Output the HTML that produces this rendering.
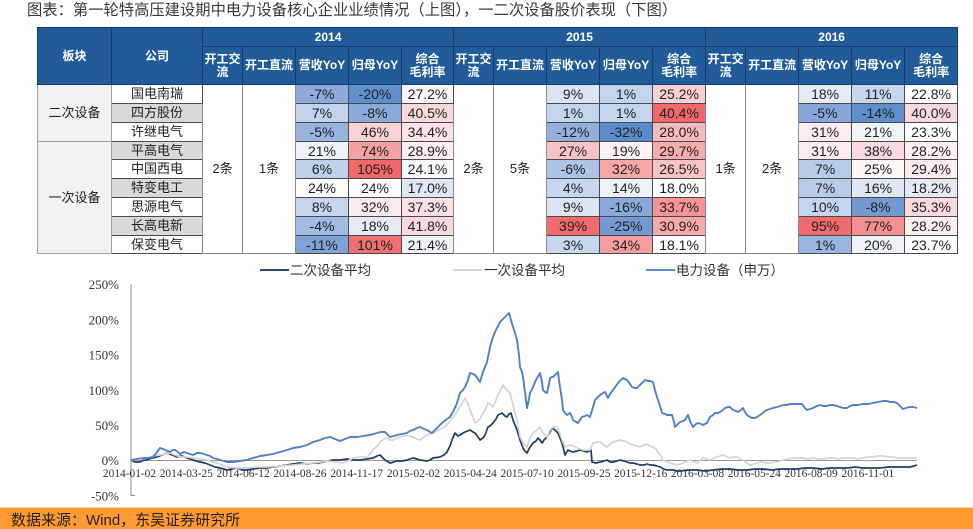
<!DOCTYPE html>
<html><head><meta charset="utf-8">
<style>
html,body{margin:0;padding:0;background:#fff;}
body{width:973px;height:529px;position:relative;overflow:hidden;font-family:"Liberation Sans","Noto Sans CJK SC",sans-serif;}
.title{position:absolute;left:27px;top:1px;font-size:15.3px;line-height:20px;color:#3a3a3a;white-space:nowrap;}
table{position:absolute;left:37px;top:27px;border-collapse:collapse;table-layout:fixed;width:921px;}
td{padding:0;text-align:center;vertical-align:middle;font-size:14px;color:#222;border:1px solid #4a4a4a;overflow:hidden;white-space:nowrap;line-height:14px;}
td.h{background:#215b9a;color:#fff;font-weight:bold;font-size:12px;border:1px solid #173e68;white-space:normal;line-height:13px;}
td.b{background:#f2f2f2;border-color:#a0a0a0;font-size:13px;}
td.g{background:#d9d9d9;font-size:13px;}
td.w{background:#fff;font-size:13px;}
td.m{background:#fff;border-color:#8a8a8a;font-size:13px;}
tr.r td{height:18px;}
tr.s td{height:17px;}
svg{position:absolute;left:0;top:0;}
</style></head><body>
<div class="title">图表：第一轮特高压建设期中电力设备核心企业业绩情况（上图），一二次设备股价表现（下图）</div>
<table>
<colgroup>
<col style="width:74px"><col style="width:91px">
<col style="width:40px"><col style="width:53px"><col style="width:53px"><col style="width:53px"><col style="width:52px">
<col style="width:40px"><col style="width:53px"><col style="width:53px"><col style="width:53px"><col style="width:53px">
<col style="width:40px"><col style="width:53px"><col style="width:53px"><col style="width:53px"><col style="width:53px">
</colgroup>
<tr><td class="h" rowspan="2">板块</td><td class="h" rowspan="2">公司</td><td class="h" colspan="5" style="height:18px">2014</td><td class="h" colspan="5">2015</td><td class="h" colspan="5">2016</td></tr>
<tr style="height:38px"><td class="h">开工交流</td><td class="h">开工直流</td><td class="h">营收YoY</td><td class="h">归母YoY</td><td class="h">综合<br>毛利率</td>
<td class="h">开工交流</td><td class="h">开工直流</td><td class="h">营收YoY</td><td class="h">归母YoY</td><td class="h">综合<br>毛利率</td>
<td class="h">开工交流</td><td class="h">开工直流</td><td class="h">营收YoY</td><td class="h">归母YoY</td><td class="h">综合<br>毛利率</td></tr>

<tr class="r"><td class="b" rowspan="3">二次设备</td><td class="w">国电南瑞</td>
<td class="m" rowspan="9">2条</td><td class="m" rowspan="9">1条</td>
<td style="background:#8eaadc">-7%</td><td style="background:#5f8fcc">-20%</td><td style="background:#fdf4f5">27.2%</td>
<td class="m" rowspan="9">2条</td><td class="m" rowspan="9">5条</td>
<td style="background:#dae4f3">9%</td><td style="background:#c3d4ed">1%</td><td style="background:#fbd0d3">25.2%</td>
<td class="m" rowspan="9">1条</td><td class="m" rowspan="9">2条</td>
<td style="background:#e4ebf6">18%</td><td style="background:#c6d6ee">11%</td><td style="background:#ffffff">22.8%</td></tr>

<tr class="r"><td class="g">四方股份</td>
<td style="background:#c0d2ec">7%</td><td style="background:#8aaad9">-8%</td><td style="background:#fcdadc">40.5%</td>
<td style="background:#c3d4ed">1%</td><td style="background:#c3d4ed">1%</td><td style="background:#f06869">40.4%</td>
<td style="background:#84a6d8">-5%</td><td style="background:#5f8ecb">-14%</td><td style="background:#fbd8db">40.0%</td></tr>

<tr class="r"><td class="w">许继电气</td>
<td style="background:#97b3de">-5%</td><td style="background:#fad2d4">46%</td><td style="background:#fce4e6">34.4%</td>
<td style="background:#93b0dd">-12%</td><td style="background:#5b8bca">-32%</td><td style="background:#f8babd">28.0%</td>
<td style="background:#fdeced">31%</td><td style="background:#eff3fa">21%</td><td style="background:#ffffff">23.3%</td></tr>

<tr class="s"><td class="b" rowspan="6">一次设备</td><td class="g">平高电气</td>
<td style="background:#eef3fa">21%</td><td style="background:#f5a1a4">74%</td><td style="background:#fdeef0">28.9%</td>
<td style="background:#f9c3c6">27%</td><td style="background:#fef4f5">19%</td><td style="background:#f6abae">29.7%</td>
<td style="background:#fdeced">31%</td><td style="background:#fbdadd">38%</td><td style="background:#fdf1f2">28.2%</td></tr>

<tr class="r"><td class="w">中国西电</td>
<td style="background:#bfd1eb">6%</td><td style="background:#f06869">105%</td><td style="background:#fbfcfe">24.1%</td>
<td style="background:#aec4e6">-6%</td><td style="background:#f7a6a9">32%</td><td style="background:#f9c3c6">26.5%</td>
<td style="background:#b8cce9">7%</td><td style="background:#fef6f7">25%</td><td style="background:#fdedef">29.4%</td></tr>

<tr class="r"><td class="g">特变电工</td>
<td style="background:#fdfdfe">24%</td><td style="background:#fdfdfe">24%</td><td style="background:#dfe7f4">17.0%</td>
<td style="background:#c7d7ee">4%</td><td style="background:#edf2f9">14%</td><td style="background:#fdfdfe">18.0%</td>
<td style="background:#b8cce9">7%</td><td style="background:#dfe7f4">16%</td><td style="background:#e3eaf5">18.2%</td></tr>

<tr class="r"><td class="w">思源电气</td>
<td style="background:#c4d5ed">8%</td><td style="background:#fdeaec">32%</td><td style="background:#fce2e4">37.3%</td>
<td style="background:#dae4f3">9%</td><td style="background:#88a9da">-16%</td><td style="background:#f49497">33.7%</td>
<td style="background:#c4d5ed">10%</td><td style="background:#7399d0">-8%</td><td style="background:#fbdadd">35.3%</td></tr>

<tr class="r"><td class="g">长高电新</td>
<td style="background:#a2bbe2">-4%</td><td style="background:#e4ebf6">18%</td><td style="background:#fbd8db">41.8%</td>
<td style="background:#f16a6c">39%</td><td style="background:#7399d0">-25%</td><td style="background:#f7a8ab">30.9%</td>
<td style="background:#f16a6c">95%</td><td style="background:#f48f92">77%</td><td style="background:#fdf0f1">28.2%</td></tr>

<tr class="s"><td class="w">保变电气</td>
<td style="background:#7fa3d7">-11%</td><td style="background:#f17173">101%</td><td style="background:#eff3fa">21.4%</td>
<td style="background:#c7d7ee">3%</td><td style="background:#f59da0">34%</td><td style="background:#fdfdfe">18.1%</td>
<td style="background:#9ab5df">1%</td><td style="background:#eef2f9">20%</td><td style="background:#ffffff">23.7%</td></tr>
</table>

<svg width="973" height="529" viewBox="0 0 973 529" xmlns="http://www.w3.org/2000/svg" style="pointer-events:none">
  <!-- legend -->
  <line x1="260" y1="270" x2="289" y2="270" stroke="#2c4a72" stroke-width="2"/>
  <text x="290" y="275" font-family="Liberation Sans, Noto Sans CJK SC, sans-serif" font-size="13.5" fill="#333">二次设备平均</text>
  <line x1="453" y1="270" x2="482" y2="270" stroke="#d6d6d6" stroke-width="2"/>
  <text x="484" y="275" font-family="Liberation Sans, Noto Sans CJK SC, sans-serif" font-size="13.5" fill="#333">一次设备平均</text>
  <line x1="646" y1="270" x2="675" y2="270" stroke="#5b8bd0" stroke-width="2"/>
  <text x="676" y="275" font-family="Liberation Sans, Noto Sans CJK SC, sans-serif" font-size="13.5" fill="#333">电力设备（申万）</text>

  <!-- y axis -->
  <line x1="131" y1="284" x2="131" y2="496" stroke="#8c8c8c" stroke-width="1"/>
  <line x1="131" y1="495.5" x2="135" y2="495.5" stroke="#8c8c8c" stroke-width="1"/>
  <g font-family="Liberation Serif, serif" font-size="13" fill="#333" text-anchor="end">
    <text x="119" y="289.2">250%</text>
    <text x="119" y="324.4">200%</text>
    <text x="119" y="359.6">150%</text>
    <text x="119" y="394.8">100%</text>
    <text x="119" y="430">50%</text>
    <text x="119" y="465.2">0%</text>
    <text x="119" y="500.4">-50%</text>
  </g>
  <!-- zero line -->
  <line x1="131" y1="460.5" x2="917" y2="460.5" stroke="#9a9a9a" stroke-width="1"/>
  <!-- x labels -->
  <g font-family="Liberation Serif, serif" font-size="11.4" fill="#333" text-anchor="middle">
    <text x="129.5" y="477">2014-01-02</text>
    <text x="186.3" y="477">2014-03-25</text>
    <text x="243.1" y="477">2014-06-12</text>
    <text x="299.9" y="477">2014-08-26</text>
    <text x="356.7" y="477">2014-11-17</text>
    <text x="413.5" y="477">2015-02-02</text>
    <text x="470.3" y="477">2015-04-24</text>
    <text x="527.1" y="477">2015-07-10</text>
    <text x="583.9" y="477">2015-09-25</text>
    <text x="640.7" y="477">2015-12-16</text>
    <text x="697.5" y="477">2016-03-08</text>
    <text x="754.3" y="477">2016-05-24</text>
    <text x="811.1" y="477">2016-08-09</text>
    <text x="867.9" y="477">2016-11-01</text>
  </g>

  <!-- dark series -->
  <polyline fill="none" stroke="#203d66" stroke-width="1.7" stroke-linejoin="round" points="131,460 135,462 140,462 144,460 147,460 152,458 157,457 162,455 167,453 172,455 177,457 182,456 187,458 193,460 200,462 205,463 210,465 215,467 220,468 227,470 232,469 237,468 242,470 247,470 253,469 260,468 267,468 273,467 280,466 287,465 293,464 300,463 307,464 313,463 318,463 323,462 328,461 333,460 340,460 347,459 353,460 360,460 367,459 373,458 377,456 380,455 383,458 385,460 390,463 394,462 397,461 402,461 407,460 413,458 417,459 420,460 427,461 430,460 433,458 440,457 444,455 447,452 450,446 452,440 455,433 458,436 460,435 463,433 465,432 470,430 473,432 475,433 478,437 480,440 483,438 485,435 488,427 490,426 493,423 496,419 498,415 502,413 505,416 507,417 509,414 511,413 513,420 515,425 517,430 520,440 523,448 525,451 527,453 530,447 533,443 536,441 538,438 540,440 542,443 544,440 547,437 550,432 552,428 555,430 558,433 560,438 562,443 565,455 568,450 570,451 573,452 577,451 580,450 584,451 587,452 591,450 592,462 596,463 600,462 604,461 607,460 610,462 613,462 617,461 620,460 624,461 627,462 630,463 633,463 637,464 640,465 644,465 647,464 650,465 653,465 657,466 660,467 664,469 667,470 670,470 673,470 677,471 680,471 688,470 697,470 705,471 713,470 722,469 730,469 738,470 747,470 755,469 763,469 772,470 780,469 788,469 797,469 805,468 813,468 822,469 830,468 838,468 847,468 855,467 863,468 872,468 880,468 888,467 897,467 904,467 910,467 914,466 917,465"/>

  <!-- gray series -->
  <polyline fill="none" stroke="#d4d4d4" stroke-width="1.7" stroke-linejoin="round" points="131,460 140,459 147,458 153,456 160,455 165,454 170,453 175,455 180,457 187,457 193,458 200,459 207,460 212,462 217,463 222,465 227,467 237,468 247,468 257,467 267,467 280,466 293,465 303,464 313,463 320,462 327,461 335,462 343,463 348,461 353,458 360,457 367,457 370,454 373,450 377,446 380,442 384,439 387,438 390,440 393,440 397,438 400,437 404,436 407,435 410,436 413,437 417,439 420,440 424,437 427,435 430,434 433,433 437,431 440,429 444,427 447,425 450,421 453,417 457,412 460,407 463,402 465,398 468,404 470,410 473,417 475,423 478,421 480,419 483,413 485,410 488,403 490,404 493,407 496,400 498,395 501,389 503,385 505,388 507,390 510,393 513,405 515,413 517,420 520,437 523,443 525,445 527,447 530,438 533,433 537,430 540,427 543,433 547,437 550,430 553,427 557,427 560,434 562,440 565,447 570,445 573,446 577,448 583,450 587,450 590,450 593,443 597,442 600,442 604,445 607,447 610,444 613,442 617,441 620,440 624,441 627,442 630,444 633,445 637,446 640,447 644,445 647,444 650,446 653,447 656,449 658,452 661,456 663,460 667,462 670,463 674,464 677,465 680,464 683,463 687,461 690,460 694,462 697,463 700,460 703,458 707,459 710,460 714,458 717,457 720,456 723,455 727,457 730,458 734,457 737,457 740,459 743,460 747,463 750,465 754,464 757,463 760,462 763,462 767,463 770,463 774,462 777,462 780,461 783,460 788,459 793,458 798,458 803,458 808,459 813,458 818,459 823,459 828,458 833,458 838,459 843,458 848,458 853,458 858,459 863,458 868,457 873,457 878,456 883,456 888,457 893,457 898,458 903,458 910,458 917,458"/>

  <!-- blue series -->
  <polyline fill="none" stroke="#4f80c8" stroke-width="1.9" stroke-linejoin="round" points="131,460 137,459 143,458 148,458 153,457 157,452 160,448 163,449 165,450 168,451 170,452 173,450 175,450 178,452 180,454 184,452 187,453 190,454 193,455 197,453 200,453 204,454 207,455 210,456 213,458 217,459 220,460 224,461 227,462 233,462 240,461 247,460 253,458 260,456 267,455 273,454 280,452 287,450 293,448 300,447 307,445 313,442 320,440 325,438 330,437 335,439 340,441 345,439 350,437 357,437 363,436 370,435 377,433 381,432 385,432 388,435 390,437 394,436 397,435 402,434 407,433 410,431 413,430 417,428 420,427 424,429 427,430 430,432 432,433 435,430 437,428 440,425 443,422 447,419 450,417 454,410 457,403 460,393 463,390 465,387 468,380 470,373 473,374 475,375 478,379 480,382 483,372 485,367 487,362 489,352 490,347 493,337 495,332 498,326 500,322 503,319 505,317 507,315 509,313 511,320 513,327 515,333 517,340 519,355 520,367 522,372 523,377 525,392 527,408 529,399 530,393 532,389 533,387 535,382 537,378 539,375 540,373 542,382 543,390 545,392 547,393 549,384 550,378 552,377 553,377 556,374 558,372 559,380 560,387 562,400 563,410 565,413 567,415 570,413 572,417 573,420 576,422 578,423 580,420 582,417 585,416 587,415 590,417 593,407 595,400 598,397 600,395 603,393 605,392 608,398 610,394 613,390 616,386 618,383 621,380 623,378 625,379 627,380 630,384 632,387 635,388 637,388 640,385 643,382 645,380 648,381 650,381 653,382 655,390 657,397 660,406 662,413 665,414 667,415 670,415 672,415 674,422 675,427 678,424 680,422 683,421 685,420 688,415 690,421 693,427 696,424 698,423 701,424 703,425 707,423 710,417 713,415 715,413 718,413 720,412 723,410 725,408 728,407 730,407 733,410 736,411 738,412 741,410 743,408 745,412 747,415 750,417 752,418 755,418 757,417 760,415 763,413 765,411 767,410 770,409 773,408 777,407 780,406 784,405 787,405 790,404 793,404 798,404 802,404 805,408 807,410 810,409 813,408 817,406 820,405 823,406 827,406 830,405 833,405 837,406 840,407 843,408 847,408 850,406 853,405 858,405 863,404 868,404 873,403 878,402 883,401 887,401 890,402 894,402 897,403 900,406 903,409 906,408 910,407 913,407 917,408"/>

  <!-- footer -->
  <rect x="0" y="507" width="973" height="1" fill="#ffcf9c"/>
  <rect x="0" y="508" width="973" height="21" fill="#ff9a33"/>
  <text x="11" y="525" font-family="Liberation Sans, Noto Sans CJK SC, sans-serif" font-size="15" fill="#222">数据来源：Wind，东吴证券研究所</text>
</svg>
</body></html>
